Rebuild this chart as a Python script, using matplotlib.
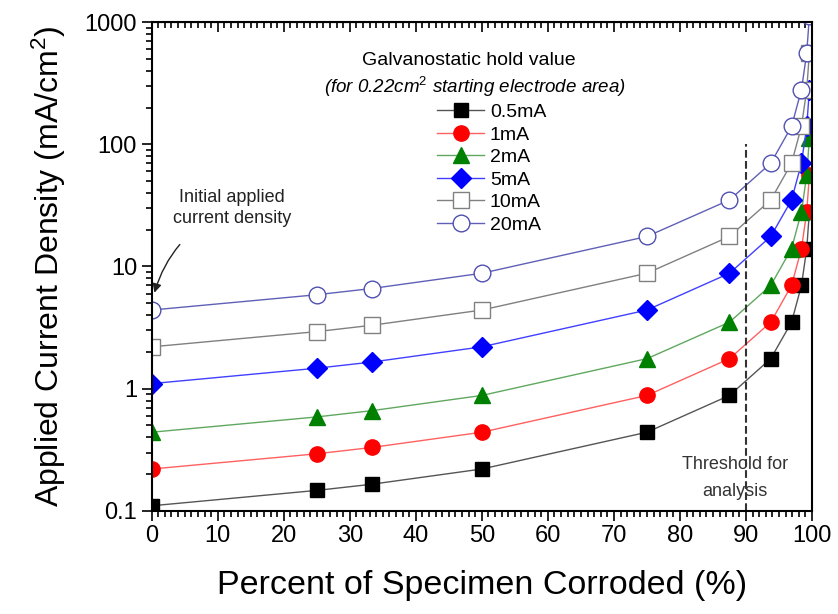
import numpy as np
import matplotlib.pyplot as plt
from matplotlib.ticker import MultipleLocator, LogLocator, NullFormatter

plt.rcParams['font.family'] = ['Liberation Sans', 'DejaVu Sans']
plt.rcParams['mathtext.fontset'] = 'custom'
plt.rcParams['mathtext.rm'] = 'Liberation Sans'
plt.rcParams['mathtext.it'] = 'Liberation Sans:italic'

# percent corroded at each point
pct = [0, 25, 33.3, 50, 75, 87.5, 93.75, 96.9, 98.4, 99.2, 99.6]

# applied current density (mA/cm2)
j_05 = [0.11, 0.147, 0.165, 0.22, 0.44, 0.88, 1.76, 3.5, 7.0, 14, 28]
j_1 = [0.22, 0.293, 0.33, 0.44, 0.88, 1.76, 3.5, 7.0, 14, 28, 56]
j_2 = [0.44, 0.587, 0.66, 0.88, 1.76, 3.5, 7.0, 14, 28, 56, 112]
j_5 = [1.1, 1.47, 1.65, 2.2, 4.4, 8.8, 17.6, 35, 70, 140, 280]
j_10 = [2.2, 2.93, 3.3, 4.4, 8.8, 17.6, 35, 70, 140, 280, 560]
j_20 = [4.4, 5.87, 6.6, 8.8, 17.6, 35, 70, 140, 280, 560, 1120]

labels = ['0.5mA', '1mA', '2mA', '5mA', '10mA', '20mA']

fig = plt.figure(figsize=(8.38, 6.14), dpi=100)
ax = fig.add_axes([0.181, 0.168, 0.788, 0.796])

ax.plot(pct, j_05, '-', color='#555555', lw=1, marker='s', ms=10, mfc='black', mec='black', label=labels[0])
ax.plot(pct, j_1, '-', color='#ff6060', lw=1, marker='o', ms=11, mfc='#ff0000', mec='#ff0000', label=labels[1])
ax.plot(pct, j_2, '-', color='#60a860', lw=1, marker='^', ms=12, mfc='#008000', mec='#008000', label=labels[2])
ax.plot(pct, j_5, '-', color='#4040ff', lw=1, marker='D', ms=10, mfc='#0000ff', mec='#0000ff', label=labels[3])
ax.plot(pct, j_10, '-', color='#808080', lw=1, marker='s', ms=11, mfc='white', mec='#808080', label=labels[4])
ax.plot(pct, j_20, '-', color='#6060b8', lw=1, marker='o', ms=12, mfc='white', mec='#5050b0', label=labels[5])

ax.set_yscale('log')
ax.set_xlim(0, 100)
ax.set_ylim(0.1, 1000)
ax.set_yticks([0.1, 1, 10, 100, 1000])
ax.set_yticklabels(['0.1', '1', '10', '100', '1000'])
ax.yaxis.set_minor_locator(LogLocator(base=10, subs=np.arange(2, 10)))
ax.yaxis.set_minor_formatter(NullFormatter())
ax.xaxis.set_major_locator(MultipleLocator(10))
ax.xaxis.set_minor_locator(MultipleLocator(1))

ax.tick_params(which='both', direction='out', labelsize=17, width=1.2)
ax.tick_params(which='major', length=7)
ax.tick_params(which='minor', length=4)
for s in ax.spines.values():
    s.set_linewidth(1.5)

top = ax.secondary_xaxis('top')
top.xaxis.set_major_locator(MultipleLocator(10))
top.xaxis.set_minor_locator(MultipleLocator(1))
top.tick_params(which='both', direction='in', labeltop=False, width=1.2)
top.tick_params(which='major', length=7)
top.tick_params(which='minor', length=4)

ax.set_xlabel('Percent of Specimen Corroded (%)', fontsize=24.5, labelpad=16)
ax.set_ylabel('Applied Current Density (mA/cm$^2$)', fontsize=23, labelpad=12)

# threshold line
ax.plot([90, 90], [0.1, 100], '--', color='#333333', lw=1.5)
ax.text(88.3, 0.24, 'Threshold for', ha='center', va='center', fontsize=13, color='#333333')
ax.text(88.3, 0.145, 'analysis', ha='center', va='center', fontsize=13, color='#333333')

ax.annotate('Initial applied\ncurrent density', xy=(0.3, 5.8), xytext=(12.2, 30),
            ha='center', va='center', fontsize=13, color='#222222', linespacing=1.3,
            arrowprops=dict(arrowstyle='-|>', color='#222222', lw=1,
                            connectionstyle='arc3,rad=0.25', shrinkA=15))

ax.text(0.481, 0.922, 'Galvanostatic hold value', transform=ax.transAxes,
        ha='center', va='center', fontsize=14)
ax.text(0.49, 0.867, '(for 0.22cm$^2$ starting electrode area)', transform=ax.transAxes,
        ha='center', va='center', fontsize=13.5, style='italic')

ax.legend(loc='upper left', bbox_to_anchor=(0.418, 0.853), frameon=False, fontsize=14,
          handlelength=2.4, labelspacing=0.25, borderpad=0, handletextpad=0.3)

fig.savefig('out.png', dpi=100)
